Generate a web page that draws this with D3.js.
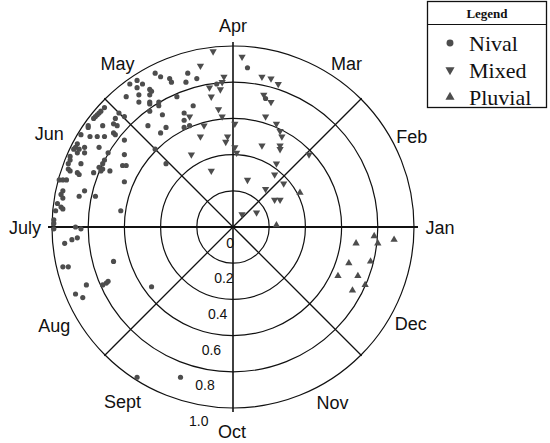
<!DOCTYPE html>
<html><head><meta charset="utf-8">
<script src="https://cdn.jsdelivr.net/npm/d3@7"></script>
<style>body{margin:0;background:#fff}svg{display:block}</style>
</head><body>
<svg id="chart" width="550" height="443"></svg>
<script>
// Seasonality vectors (x̄, ȳ components of mean-date vector; Jan = +x, Apr = +y)
const nival = [
[-0.43,0.85],[-0.40,0.83],[-0.25,0.85],[-0.35,0.82],[-0.34,0.80],[-0.26,0.80],[-0.20,0.82],
[-0.53,0.81],[-0.50,0.79],[-0.53,0.77],[-0.46,0.76],[-0.45,0.75],[-0.52,0.73],[-0.46,0.73],
[-0.31,0.72],[-0.52,0.69],[-0.46,0.69],[-0.46,0.68],[-0.41,0.69],[-0.41,0.67],[-0.22,0.67],
[-0.46,0.64],[-0.39,0.62],[-0.27,0.63],[-0.27,0.59],[-0.47,0.56],[-0.37,0.55],[-0.27,0.55],
[-0.24,0.56],[-0.40,0.52],[-0.43,0.43],[-0.37,0.35],
[-0.57,0.79],[-0.59,0.72],[-0.71,0.66],[-0.73,0.64],[-0.74,0.63],[-0.75,0.62],[-0.76,0.61],
[-0.77,0.60],[-0.80,0.56],[-0.80,0.55],[-0.72,0.56],[-0.65,0.60],[-0.66,0.57],[-0.64,0.56],
[-0.63,0.63],[-0.60,0.61],[-0.84,0.51],
[-0.79,0.50],[-0.75,0.50],[-0.71,0.50],[-0.66,0.52],[-0.65,0.51],[-0.60,0.48],[-0.86,0.46],
[-0.87,0.44],[-0.88,0.43],[-0.85,0.43],[-0.86,0.41],[-0.82,0.44],[-0.82,0.41],[-0.74,0.44],
[-0.69,0.41],[-0.60,0.40],[-0.90,0.39],[-0.90,0.37],[-0.91,0.35],[-0.84,0.35],[-0.71,0.37],
[-0.72,0.35],[-0.74,0.33],[-0.91,0.32],[-0.90,0.31],[-0.86,0.30],[-0.85,0.29],[-0.72,0.32],
[-0.73,0.31],[-0.68,0.31],[-0.61,0.34],[-0.59,0.34],[-0.77,0.30],[-0.96,0.26],[-0.94,0.26],
[-0.92,0.26],[-0.60,0.25],[-0.82,0.20],[-0.85,0.17],[-0.94,0.20],[-0.95,0.18],[-0.94,0.16],
[-0.76,0.17],[-0.97,0.13],[-0.95,0.11],[-0.94,0.10],[-0.98,0.09],[-0.62,0.09],[-0.99,0.04],
[-0.99,0.02],[-0.87,0.00],[-0.84,-0.01],[-0.99,-0.01],[-0.93,-0.09],[-0.89,-0.07],[-0.86,-0.06],
[-0.94,-0.22],[-0.91,-0.22],[-0.66,-0.19],[-0.81,-0.32],[-0.87,-0.37],[-0.83,-0.39],[-0.72,-0.32],
[-0.70,-0.31],[-0.69,-0.30],[-0.45,-0.33],[-0.53,-0.83],[-0.29,-0.83],
[0.08,0.88],[0.18,0.71],[-0.09,0.79]
];
const mixed = [
[-0.11,0.97],[-0.18,0.89],[-0.05,0.83],[-0.06,0.80],[-0.13,0.77],[-0.07,0.76],[-0.12,0.72],
[-0.08,0.65],[-0.24,0.61],[-0.06,0.61],[-0.16,0.56],[-0.18,0.50],[-0.03,0.50],[-0.04,0.47],
[-0.23,0.40],[-0.12,0.31],
[0.05,0.94],[0.16,0.83],[0.21,0.82],[0.25,0.79],[0.17,0.73],[0.21,0.69],[0.18,0.61],[0.01,0.57],
[0.24,0.57],[0.26,0.53],[0.27,0.50],[0.01,0.44],[0.02,0.41],[0.16,0.45],[0.26,0.45],[0.26,0.43],
[0.42,0.40],[0.24,0.35],[0.08,0.26],[0.23,0.29],[0.28,0.24],[0.18,0.21],[0.23,0.15],[0.26,0.15],
[0.05,0.07],[0.13,0.08]
];
const pluvial = [
[0.37,0.19],[0.24,0.01],[0.78,-0.05],[0.80,-0.09],[0.89,-0.07],[0.68,-0.09],[0.64,-0.20],
[0.76,-0.19],[0.58,-0.27],[0.69,-0.27],[0.73,-0.32],[0.66,-0.35]
];
const months = ["Jan","Feb","Mar","Apr","May","Jun","July","Aug","Sept","Oct","Nov","Dec"];
const ringTicks = [0.2,0.4,0.6,0.8,1.0];
const tickLabels = ["0","0.2","0.4","0.6","0.8","1.0"];
const tickLabelValues = [0,0.2,0.4,0.6,0.8,1.0];
const legendNames = ["Nival","Mixed","Pluvial"];

// ---- layout ----
const svg = d3.select("#chart");
const cx = 233, cy = 227, R = 181;
const ink = "#111", markColor = "#4d4d4d";
const rScale = d3.scaleLinear().domain([0,1]).range([0,R]);
const xS = d3.scaleLinear().domain([-1,1]).range([cx-R, cx+R]);
const yS = d3.scaleLinear().domain([-1,1]).range([cy+R, cy-R]);
const monthAngle = d3.scaleLinear().domain([0,12]).range([0, 2*Math.PI]); // ccw from +x

const g = svg.append("g");

// rings
g.selectAll("circle.ring").data(ringTicks).join("circle")
  .attr("cx",cx).attr("cy",cy).attr("r",d=>rScale(d))
  .attr("fill","none").attr("stroke",ink).attr("stroke-width",1.2);

// spokes
const spokes = [
  {a:0, ext:4, w:2}, {a:Math.PI/2, ext:4, w:1.6}, {a:Math.PI, ext:4, w:2}, {a:3*Math.PI/2, ext:4, w:1.6},
  {a:Math.PI/4, ext:1, w:1.3}, {a:3*Math.PI/4, ext:1, w:1.3}, {a:5*Math.PI/4, ext:1, w:1.3}, {a:7*Math.PI/4, ext:1, w:1.3}
];
g.selectAll("line.spoke").data(spokes).join("line")
  .attr("x1",cx).attr("y1",cy)
  .attr("x2",d=>cx+(R+d.ext)*Math.cos(d.a))
  .attr("y2",d=>cy-(R+d.ext)*Math.sin(d.a))
  .attr("stroke",ink).attr("stroke-width",d=>d.w);

// month labels
const nudge = {Jan:[4,1],Feb:[3,11],Mar:[12,13],Apr:[0,2],May:[-14,13],Jun:[-8,8],July:[-5,1],
  Aug:[-3,-3],Sept:[-9,-1],Oct:[-1,2],Nov:[-2,0],Dec:[2,-5]};
g.selectAll("text.month").data(months).join("text")
  .attr("x",(d,i)=>cx+203*Math.cos(monthAngle(i))+nudge[d][0])
  .attr("y",(d,i)=>cy-203*Math.sin(monthAngle(i))+nudge[d][1])
  .attr("text-anchor","middle").attr("dominant-baseline","central")
  .attr("font-family","'Liberation Sans', Arial, sans-serif").attr("font-size",18)
  .attr("fill","#111").text(d=>d);

// ring value labels
const tickAng = -100*Math.PI/180;
g.selectAll("text.tick").data(tickLabelValues).join("text")
  .attr("x",(d)=>cx+(rScale(d)+16)*Math.cos(tickAng))
  .attr("y",(d)=>cy-(rScale(d)+16)*Math.sin(tickAng))
  .attr("text-anchor","middle").attr("dominant-baseline","central")
  .attr("font-family","'Liberation Sans', Arial, sans-serif").attr("font-size",14)
  .attr("fill","#111").text((d,i)=>tickLabels[i]);

// points
const circleSym = d3.symbol().type(d3.symbolCircle).size(21);
const triSym = d3.symbol().type(d3.symbolTriangle).size(23);
g.selectAll("path.nival").data(nival).join("path")
  .attr("d",circleSym).attr("fill",markColor)
  .attr("transform",d=>`translate(${xS(d[0])},${yS(d[1])})`);
g.selectAll("path.mixed").data(mixed).join("path")
  .attr("d",triSym).attr("fill",markColor)
  .attr("transform",d=>`translate(${xS(d[0])},${yS(d[1])}) rotate(180)`);
g.selectAll("path.pluvial").data(pluvial).join("path")
  .attr("d",triSym).attr("fill",markColor)
  .attr("transform",d=>`translate(${xS(d[0])},${yS(d[1])})`);

// legend
const lg = svg.append("g");
lg.append("rect").attr("x",427.5).attr("y",1.5).attr("width",119).attr("height",106)
  .attr("fill","#fff").attr("stroke",ink).attr("stroke-width",1.3);
lg.append("line").attr("x1",427.5).attr("x2",546.5).attr("y1",24.5).attr("y2",24.5)
  .attr("stroke",ink).attr("stroke-width",1.2);
lg.append("text").attr("x",487).attr("y",18).attr("text-anchor","middle")
  .attr("font-family","'Liberation Serif', 'Times New Roman', serif").attr("font-weight","bold")
  .attr("font-size",13).attr("fill","#111").text("Legend");
const legSym = [d3.symbol().type(d3.symbolCircle).size(38), d3.symbol().type(d3.symbolTriangle).size(36), d3.symbol().type(d3.symbolTriangle).size(36)];
const legRot = [0,180,0];
const rows = lg.selectAll("g.row").data(legendNames).join("g")
  .attr("transform",(d,i)=>`translate(0,${43+i*27})`);
rows.append("path").attr("d",(d,i)=>legSym[i]()).attr("fill",markColor)
  .attr("transform",(d,i)=>`translate(450,0) rotate(${legRot[i]})`);
rows.append("text").attr("x",469).attr("y",7.5)
  .attr("font-family","'Liberation Serif', 'Times New Roman', serif").attr("font-size",22)
  .attr("fill","#111").text(d=>d);
</script>
</body></html>
